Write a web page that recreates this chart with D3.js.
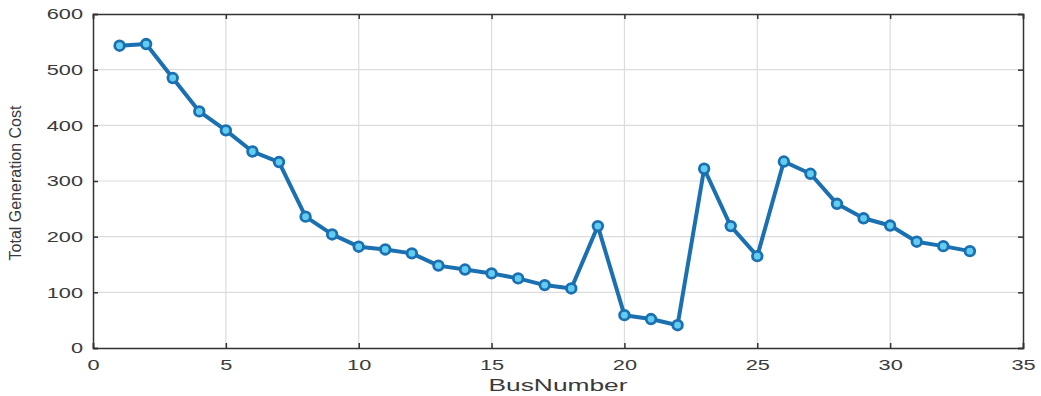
<!DOCTYPE html>
<html>
<head>
<meta charset="utf-8">
<script src="https://cdn.jsdelivr.net/npm/d3@7"></script>
<style>
  html, body { margin: 0; padding: 0; background: #fff; }
  svg { display: block; }
  .tick text { font-family: "Liberation Sans", Arial, sans-serif; font-size: 15px; fill: #3a3a3a; }
</style>
</head>
<body>
<svg id="chart" width="1041" height="396"></svg>
<script>
// Total generation cost per bus
const busNumbers = [1,2,3,4,5,6,7,8,9,10,11,12,13,14,15,16,17,18,19,20,21,22,23,24,25,26,27,28,29,30,31,32,33];
const totalCost = [543,546,485,425,391,353,334,236,204,182,177,170,148,141,134,125,113,107,219,59,52,41,322,219,165,335,313,259,233,220,191,183,174];
const xTicks = [0,5,10,15,20,25,30,35];
const yTicks = [0,100,200,300,400,500,600];

const svg = d3.select("#chart");
const plotLeft = 93, plotRight = 1023, plotTop = 14, plotBottom = 348;
const stretch = 1.45; // wide lettering of the tick and axis labels

const x = d3.scaleLinear().domain([0, 35]).range([plotLeft, plotRight]);
const y = d3.scaleLinear().domain([0, 600]).range([plotBottom, plotTop]);

// grid
const grid = svg.append("g");
grid.selectAll(".gx").data(xTicks.slice(1, -1)).enter().append("line")
  .attr("x1", d => x(d)).attr("x2", d => x(d))
  .attr("y1", plotTop).attr("y2", plotBottom)
  .attr("stroke", "#dcdcdc").attr("stroke-width", 1.2);
grid.selectAll(".gy").data(yTicks.slice(1, -1)).enter().append("line")
  .attr("x1", plotLeft).attr("x2", plotRight)
  .attr("y1", d => y(d)).attr("y2", d => y(d))
  .attr("stroke", "#dcdcdc").attr("stroke-width", 1.2);

// axes
const xAxis = svg.append("g").attr("transform", `translate(0,${plotBottom})`)
  .call(d3.axisBottom(x).tickValues(xTicks).tickSize(-5).tickPadding(11).tickFormat(d3.format("d")));
xAxis.selectAll(".tick text").attr("transform", `scale(${stretch},1)`);
const yAxis = svg.append("g").attr("transform", `translate(${plotLeft},0)`)
  .call(d3.axisLeft(y).tickValues(yTicks).tickSize(-5).tickFormat(d3.format("d")));
yAxis.selectAll(".tick text").attr("x", -10 / stretch).attr("transform", `scale(${stretch},1)`);
const xTop = svg.append("g").attr("transform", `translate(0,${plotTop})`)
  .call(d3.axisTop(x).tickValues(xTicks).tickSize(-5).tickFormat(""));
const yRight = svg.append("g").attr("transform", `translate(${plotRight},0)`)
  .call(d3.axisRight(y).tickValues(yTicks).tickSize(-5).tickFormat(""));
[xAxis, yAxis, xTop, yRight].forEach(g => {
  g.select(".domain").attr("stroke", "#333").attr("stroke-width", 1.5);
  g.selectAll(".tick line").attr("stroke", "#333").attr("stroke-width", 1.5);
});

// series line
const line = d3.line().x((d, i) => x(busNumbers[i])).y(d => y(d));
svg.append("path").datum(totalCost)
  .attr("d", line)
  .attr("fill", "none")
  .attr("stroke", "#1a70b0")
  .attr("stroke-width", 4)
  .attr("stroke-linejoin", "round");

// markers
svg.selectAll(".pt").data(totalCost).enter().append("circle")
  .attr("cx", (d, i) => x(busNumbers[i]))
  .attr("cy", d => y(d))
  .attr("r", 4.8)
  .attr("fill", "#62cdf0")
  .attr("stroke", "#1a70b0")
  .attr("stroke-width", 2.8);

// axis labels
svg.append("text")
  .attr("transform", `translate(558,391) scale(1.55,1)`)
  .attr("text-anchor", "middle")
  .attr("font-family", "Liberation Sans, Arial, sans-serif")
  .attr("font-size", 17)
  .attr("fill", "#3a3a3a")
  .text("BusNumber");

svg.append("text")
  .attr("transform", "translate(21,183) rotate(-90)")
  .attr("text-anchor", "middle")
  .attr("font-family", "Liberation Sans, Arial, sans-serif")
  .attr("font-size", 16)
  .attr("fill", "#3a3a3a")
  .text("Total Generation Cost");
</script>
</body>
</html>
